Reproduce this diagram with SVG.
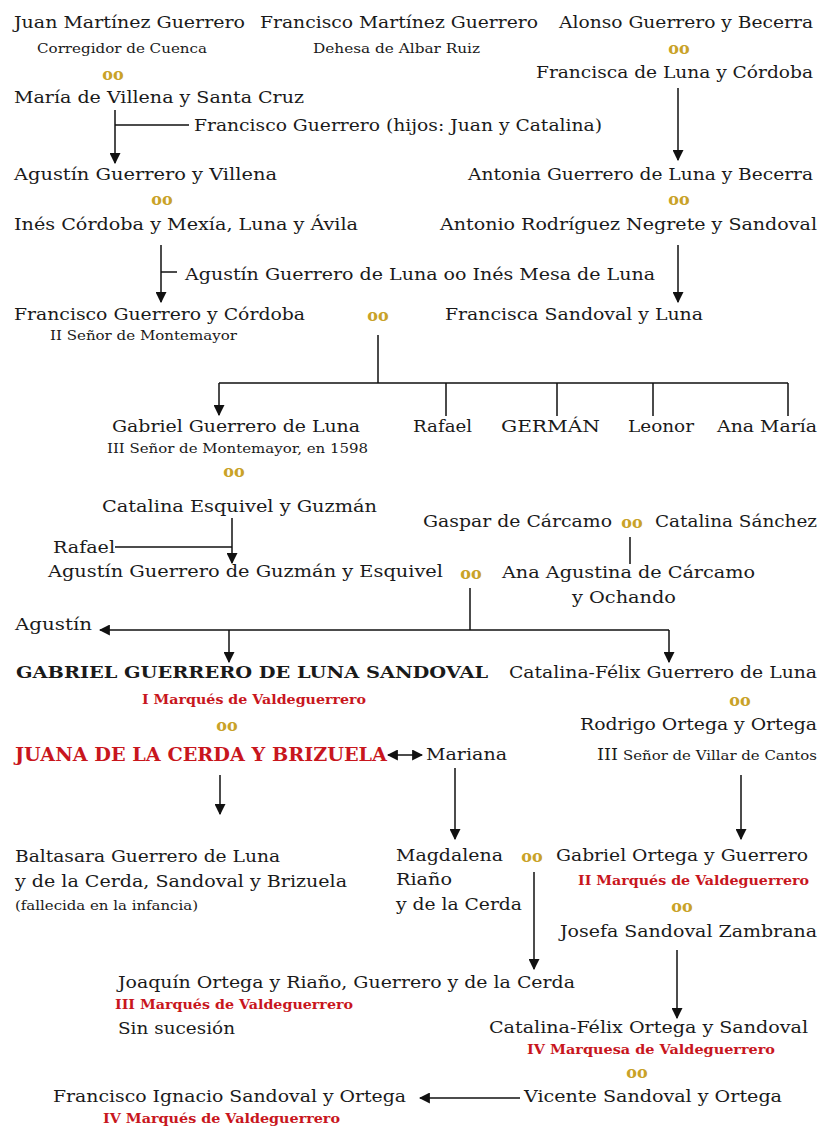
<svg xmlns="http://www.w3.org/2000/svg" width="819" height="1128" viewBox="0 0 819 1128">
<defs>
<style>
text{font-family:"DejaVu Serif","Liberation Serif",serif;font-size:16px;fill:#1a1a1a}
.s{font-size:12.5px}
.r{fill:#C8161D;font-weight:bold;font-size:13.5px}
.b{font-weight:bold}
.j{fill:#C8161D;font-weight:bold;font-size:18px}
.oo{fill:#C9A227;font-size:16px;font-weight:bold;text-anchor:middle}
.ln{stroke:#111;stroke-width:1.5;fill:none}
.ar{marker-end:url(#ah)}
.da{marker-start:url(#ah);marker-end:url(#ah)}
</style>
<marker id="ah" viewBox="0 0 10 10" refX="9" refY="5" markerWidth="11" markerHeight="11" markerUnits="userSpaceOnUse" orient="auto-start-reverse">
<path d="M0,0 L10,5 L0,10 z" fill="#111"/>
</marker>
</defs>
<rect width="819" height="1128" fill="#fff"/>

<g id="connectors">
<path class="ln ar" d="M115,110 V163"/>
<path class="ln" d="M115,125 H189"/>
<path class="ln ar" d="M678,88 V160"/>
<path class="ln ar" d="M161,245 V302"/>
<path class="ln" d="M161,272 H177"/>
<path class="ln ar" d="M678,245 V302"/>
<path class="ln" d="M378,335 V383 M219,383 H788 M446,383 V416 M557,383 V416 M653,383 V416 M788,383 V416"/>
<path class="ln ar" d="M219,383 V415"/>
<path class="ln ar" d="M232,518 V563"/>
<path class="ln" d="M115,547 H232"/>
<path class="ln" d="M630,537 V564"/>
<path class="ln" d="M470,588 V630"/>
<path class="ln ar" d="M669,630 H100"/>
<path class="ln ar" d="M229,630 V662"/>
<path class="ln ar" d="M669,630 V662"/>
<path class="ln da" d="M388,755 H422"/>
<path class="ln ar" d="M220,775 V814"/>
<path class="ln ar" d="M455,768 V839"/>
<path class="ln ar" d="M741,775 V839"/>
<path class="ln ar" d="M534,872 V969"/>
<path class="ln ar" d="M677,950 V1018"/>
<path class="ln ar" d="M520,1098 H420"/>
</g>

<g id="juan-martinez-guerrero">
<text x="14" y="28" textLength="231" lengthAdjust="spacingAndGlyphs">Juan Martínez Guerrero</text>
<text class="s" x="37" y="53" textLength="170" lengthAdjust="spacingAndGlyphs">Corregidor de Cuenca</text>
</g>
<g id="m1"><text class="oo" x="113" y="80">oo</text></g>
<g id="francisco-martinez-guerrero">
<text x="260" y="28" textLength="278" lengthAdjust="spacingAndGlyphs">Francisco Martínez Guerrero</text>
<text class="s" x="313" y="53" textLength="167" lengthAdjust="spacingAndGlyphs">Dehesa de Albar Ruiz</text>
</g>
<g id="alonso-guerrero">
<text x="559" y="28" textLength="254" lengthAdjust="spacingAndGlyphs">Alonso Guerrero y Becerra</text>
</g>
<g id="m2"><text class="oo" x="679" y="54">oo</text></g>
<g id="francisca-de-luna">
<text x="536" y="78" textLength="277" lengthAdjust="spacingAndGlyphs">Francisca de Luna y Córdoba</text>
</g>
<g id="maria-de-villena">
<text x="14" y="103" textLength="290" lengthAdjust="spacingAndGlyphs">María de Villena y Santa Cruz</text>
</g>
<g id="francisco-guerrero">
<text x="194" y="131" textLength="408" lengthAdjust="spacingAndGlyphs">Francisco Guerrero (hijos: Juan y Catalina)</text>
</g>
<g id="agustin-guerrero-villena">
<text x="14" y="180" textLength="263" lengthAdjust="spacingAndGlyphs">Agustín Guerrero y Villena</text>
</g>
<g id="m3"><text class="oo" x="162" y="205">oo</text></g>
<g id="antonia-guerrero">
<text x="468" y="180" textLength="345" lengthAdjust="spacingAndGlyphs">Antonia Guerrero de Luna y Becerra</text>
</g>
<g id="m4"><text class="oo" x="679" y="205">oo</text></g>
<g id="ines-cordoba">
<text x="14" y="230" textLength="344" lengthAdjust="spacingAndGlyphs">Inés Córdoba y Mexía, Luna y Ávila</text>
</g>
<g id="antonio-rodriguez">
<text x="440" y="230" textLength="377" lengthAdjust="spacingAndGlyphs">Antonio Rodríguez Negrete y Sandoval</text>
</g>
<g id="agustin-guerrero-de-luna">
<text x="185" y="280" textLength="470" lengthAdjust="spacingAndGlyphs">Agustín Guerrero de Luna oo Inés Mesa de Luna</text>
</g>
<g id="francisco-guerrero-cordoba">
<text x="14" y="320" textLength="291" lengthAdjust="spacingAndGlyphs">Francisco Guerrero y Córdoba</text>
<text class="s" x="50" y="340" textLength="187" lengthAdjust="spacingAndGlyphs">II Señor de Montemayor</text>
</g>
<g id="m5"><text class="oo" x="378" y="321">oo</text></g>
<g id="francisca-sandoval">
<text x="445" y="320" textLength="258" lengthAdjust="spacingAndGlyphs">Francisca Sandoval y Luna</text>
</g>
<g id="gabriel-guerrero-de-luna">
<text x="112" y="432" textLength="248" lengthAdjust="spacingAndGlyphs">Gabriel Guerrero de Luna</text>
<text class="s" x="107" y="453" textLength="261" lengthAdjust="spacingAndGlyphs">III Señor de Montemayor, en 1598</text>
</g>
<g id="rafael-1"><text x="413" y="432" textLength="59" lengthAdjust="spacingAndGlyphs">Rafael</text></g>
<g id="german"><text x="501" y="432" textLength="99" lengthAdjust="spacingAndGlyphs">GERMÁN</text></g>
<g id="leonor"><text x="628" y="432" textLength="66" lengthAdjust="spacingAndGlyphs">Leonor</text></g>
<g id="ana-maria"><text x="717" y="432" textLength="100" lengthAdjust="spacingAndGlyphs">Ana María</text></g>
<g id="m6"><text class="oo" x="234" y="477">oo</text></g>
<g id="catalina-esquivel">
<text x="102" y="512" textLength="275" lengthAdjust="spacingAndGlyphs">Catalina Esquivel y Guzmán</text>
</g>
<g id="gaspar-de-carcamo">
<text x="423" y="527" textLength="189" lengthAdjust="spacingAndGlyphs">Gaspar de Cárcamo</text>
</g>
<g id="m7"><text class="oo" x="632" y="528">oo</text></g>
<g id="catalina-sanchez">
<text x="655" y="527" textLength="162" lengthAdjust="spacingAndGlyphs">Catalina Sánchez</text>
</g>
<g id="rafael-2"><text x="53" y="553" textLength="62" lengthAdjust="spacingAndGlyphs">Rafael</text></g>
<g id="agustin-guerrero-guzman">
<text x="48" y="577" textLength="395" lengthAdjust="spacingAndGlyphs">Agustín Guerrero de Guzmán y Esquivel</text>
</g>
<g id="m8"><text class="oo" x="471" y="579">oo</text></g>
<g id="ana-agustina">
<text x="502" y="578" textLength="253" lengthAdjust="spacingAndGlyphs">Ana Agustina de Cárcamo</text>
<text x="572" y="603" textLength="104" lengthAdjust="spacingAndGlyphs">y Ochando</text>
</g>
<g id="agustin"><text x="15" y="630" textLength="77" lengthAdjust="spacingAndGlyphs">Agustín</text></g>
<g id="gabriel-guerrero-sandoval">
<text class="b" x="16" y="678" textLength="472" lengthAdjust="spacingAndGlyphs">GABRIEL GUERRERO DE LUNA SANDOVAL</text>
<text class="r" x="142" y="704" textLength="224" lengthAdjust="spacingAndGlyphs">I Marqués de Valdeguerrero</text>
</g>
<g id="m9"><text class="oo" x="227" y="731">oo</text></g>
<g id="juana-de-la-cerda">
<text class="j" x="15" y="761" textLength="372" lengthAdjust="spacingAndGlyphs">JUANA DE LA CERDA Y BRIZUELA</text>
</g>
<g id="mariana"><text x="426" y="760" textLength="81" lengthAdjust="spacingAndGlyphs">Mariana</text></g>
<g id="catalina-felix-guerrero">
<text x="509" y="678" textLength="308" lengthAdjust="spacingAndGlyphs">Catalina-Félix Guerrero de Luna</text>
</g>
<g id="m10"><text class="oo" x="740" y="706">oo</text></g>
<g id="rodrigo-ortega">
<text x="580" y="730" textLength="237" lengthAdjust="spacingAndGlyphs">Rodrigo Ortega y Ortega</text>
<text x="597" y="760"><tspan textLength="21" lengthAdjust="spacingAndGlyphs">III</tspan><tspan x="623" class="s" textLength="194" lengthAdjust="spacingAndGlyphs">Señor de Villar de Cantos</tspan></text>
</g>
<g id="baltasara">
<text x="15" y="862" textLength="265" lengthAdjust="spacingAndGlyphs">Baltasara Guerrero de Luna</text>
<text x="15" y="887" textLength="332" lengthAdjust="spacingAndGlyphs">y de la Cerda, Sandoval y Brizuela</text>
<text class="s" x="15" y="910" textLength="183" lengthAdjust="spacingAndGlyphs">(fallecida en la infancia)</text>
</g>
<g id="magdalena">
<text x="396" y="861" textLength="107" lengthAdjust="spacingAndGlyphs">Magdalena</text>
<text x="396" y="885" textLength="56" lengthAdjust="spacingAndGlyphs">Riaño</text>
<text x="396" y="910" textLength="126" lengthAdjust="spacingAndGlyphs">y de la Cerda</text>
</g>
<g id="m11"><text class="oo" x="532" y="862">oo</text></g>
<g id="gabriel-ortega">
<text x="556" y="861" textLength="252" lengthAdjust="spacingAndGlyphs">Gabriel Ortega y Guerrero</text>
<text class="r" x="578" y="885" textLength="231" lengthAdjust="spacingAndGlyphs">II Marqués de Valdeguerrero</text>
</g>
<g id="m12"><text class="oo" x="682" y="912">oo</text></g>
<g id="josefa-sandoval">
<text x="560" y="937" textLength="257" lengthAdjust="spacingAndGlyphs">Josefa Sandoval Zambrana</text>
</g>
<g id="joaquin-ortega">
<text x="118" y="988" textLength="457" lengthAdjust="spacingAndGlyphs">Joaquín Ortega y Riaño, Guerrero y de la Cerda</text>
<text class="r" x="115" y="1009" textLength="238" lengthAdjust="spacingAndGlyphs">III Marqués de Valdeguerrero</text>
<text x="118" y="1034" textLength="117" lengthAdjust="spacingAndGlyphs">Sin sucesión</text>
</g>
<g id="catalina-felix-ortega">
<text x="489" y="1033" textLength="319" lengthAdjust="spacingAndGlyphs">Catalina-Félix Ortega y Sandoval</text>
<text class="r" x="527" y="1054" textLength="248" lengthAdjust="spacingAndGlyphs">IV Marquesa de Valdeguerrero</text>
</g>
<g id="m13"><text class="oo" x="637" y="1078">oo</text></g>
<g id="vicente-sandoval">
<text x="524" y="1102" textLength="258" lengthAdjust="spacingAndGlyphs">Vicente Sandoval y Ortega</text>
</g>
<g id="francisco-ignacio">
<text x="53" y="1102" textLength="353" lengthAdjust="spacingAndGlyphs">Francisco Ignacio Sandoval y Ortega</text>
<text class="r" x="103" y="1123" textLength="237" lengthAdjust="spacingAndGlyphs">IV Marqués de Valdeguerrero</text>
</g>
</svg>
